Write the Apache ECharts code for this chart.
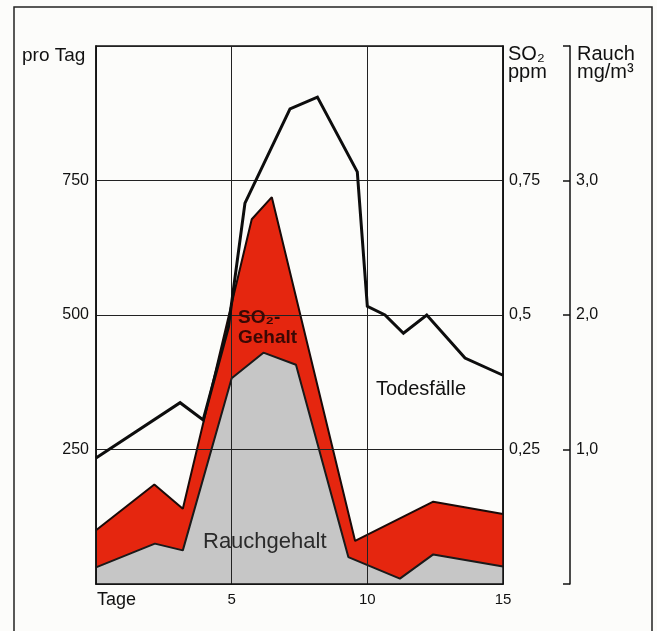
<!DOCTYPE html>
<html><head><meta charset="utf-8">
<script src="https://cdn.jsdelivr.net/npm/echarts@6/dist/echarts.min.js"></script>
<style>html,body{margin:0;padding:0;background:#fcfcfa}#c{width:657px;height:631px}</style>
</head><body><div id="c"></div>
<script>
// Tage (x) and values
const deathDays   = [0, 3.1, 3.95, 4.88, 5.49, 7.15, 8.16, 9.63, 10.0, 10.65, 11.33, 12.19, 13.6, 15];
const deathValues = [234, 337, 305, 478, 708, 883, 905, 766, 516, 500, 466, 500, 420, 388];
const so2Days     = [0, 2.15, 3.2, 5.74, 6.48, 9.55, 12.43, 15];
const so2Values   = [0.10, 0.185, 0.14, 0.678, 0.719, 0.08, 0.153, 0.13];
const smokeDays   = [0, 2.17, 3.2, 5.0, 6.17, 7.37, 9.3, 11.2, 12.43, 15];
const smokeValues = [0.124, 0.30, 0.25, 1.53, 1.72, 1.63, 0.20, 0.04, 0.22, 0.13];

const FONT = '"Liberation Sans", Arial, sans-serif';
const INK = '#111';
const pairs = (xs, ys) => xs.map((x, i) => [x, ys[i]]);

const chart = echarts.init(document.getElementById('c'), null, {renderer: 'canvas'});
chart.setOption({
  backgroundColor: '#fcfcfa',
  animation: false,
  grid: {left: 96, right: 154, top: 46, bottom: 47, show: true, borderColor: INK, borderWidth: 1.5, backgroundColor: 'transparent'},
  xAxis: {
    type: 'value', min: 0, max: 15, interval: 5, z: 3,
    axisLine: {show: true, onZero: false, lineStyle: {color: INK, width: 1.5}},
    axisTick: {show: false},
    splitLine: {show: true, lineStyle: {color: '#222', width: 1}},
    axisLabel: {showMaxLabel: true, margin: 8, fontFamily: FONT, fontSize: 15, color: INK,
      formatter: v => v === 0 ? '' : String(v)}
  },
  yAxis: [
    {
      type: 'value', position: 'left', min: 0, max: 1000, interval: 250, z: 3,
      axisLine: {show: true, lineStyle: {color: INK, width: 1.5}},
      axisTick: {show: false},
      splitLine: {show: true, lineStyle: {color: '#222', width: 1}},
      axisLabel: {margin: 7, fontFamily: FONT, fontSize: 16, color: INK,
        formatter: v => (v === 0 || v === 1000) ? '' : String(v)}
    },
    {
      type: 'value', position: 'right', min: 0, max: 1, interval: 0.25, z: 3,
      axisLine: {show: true, lineStyle: {color: INK, width: 1.5}},
      axisTick: {show: false},
      splitLine: {show: false},
      axisLabel: {margin: 6, fontFamily: FONT, fontSize: 16, color: INK,
        formatter: v => (v === 0 || v === 1) ? '' : String(v).replace('.', ',')}
    },
    {
      type: 'value', position: 'right', offset: 67, min: 0, max: 4, interval: 1, z: 3,
      axisLine: {show: true, lineStyle: {color: INK, width: 1.5}},
      axisTick: {show: true, inside: true, length: 7, lineStyle: {color: INK, width: 1.5}},
      splitLine: {show: false},
      axisLabel: {margin: 6, fontFamily: FONT, fontSize: 16, color: INK,
        formatter: v => (v === 0 || v === 4) ? '' : v.toFixed(1).replace('.', ',')}
    }
  ],
  series: [
    {
      name: 'SO2-Gehalt', type: 'line', yAxisIndex: 1, z: 1,
      data: pairs(so2Days, so2Values), symbol: 'none',
      lineStyle: {color: '#1a0a08', width: 2},
      areaStyle: {color: '#e5260f', opacity: 1, origin: 'start'}
    },
    {
      name: 'Rauchgehalt', type: 'line', yAxisIndex: 2, z: 2,
      data: pairs(smokeDays, smokeValues), symbol: 'none',
      lineStyle: {color: '#1a1a1a', width: 2},
      areaStyle: {color: '#c6c6c6', opacity: 1, origin: 'start'}
    },
    {
      name: 'Todesfälle', type: 'line', yAxisIndex: 0, z: 5,
      data: pairs(deathDays, deathValues), symbol: 'none',
      lineStyle: {color: '#0d0d0d', width: 3, join: 'miter'}
    }
  ],
  graphic: [
    {type: 'rect', silent: true, z: -10, shape: {x: 14, y: 7, width: 638, height: 640},
      style: {fill: 'none', stroke: '#222', lineWidth: 1.5}},
    {type: 'text', silent: true, z: 10, x: 22, y: 56, style: {text: 'pro Tag', font: '19px ' + FONT, fill: INK, verticalAlign: 'middle'}},
    {type: 'text', silent: true, z: 10, x: 97, y: 600, style: {text: 'Tage', font: '18px ' + FONT, fill: INK, verticalAlign: 'middle'}},
    {type: 'text', silent: true, z: 10, x: 508, y: 54, style: {text: 'SO₂', font: '20px ' + FONT, fill: INK, verticalAlign: 'middle'}},
    {type: 'text', silent: true, z: 10, x: 508, y: 72, style: {text: 'ppm', font: '20px ' + FONT, fill: INK, verticalAlign: 'middle'}},
    {type: 'text', silent: true, z: 10, x: 577, y: 54, style: {text: 'Rauch', font: '20px ' + FONT, fill: INK, verticalAlign: 'middle'}},
    {type: 'text', silent: true, z: 10, x: 577, y: 72, style: {text: 'mg/m³', font: '20px ' + FONT, fill: INK, verticalAlign: 'middle'}},
    {type: 'text', silent: true, z: 10, x: 238, y: 318, style: {text: 'SO₂-', font: 'bold 19px ' + FONT, fill: '#3a0804', verticalAlign: 'middle'}},
    {type: 'text', silent: true, z: 10, x: 238, y: 338, style: {text: 'Gehalt', font: 'bold 19px ' + FONT, fill: '#3a0804', verticalAlign: 'middle'}},
    {type: 'text', silent: true, z: 10, x: 203, y: 542, style: {text: 'Rauchgehalt', font: '22px ' + FONT, fill: '#2a2a2a', verticalAlign: 'middle'}},
    {type: 'text', silent: true, z: 10, x: 376, y: 389, style: {text: 'Todesfälle', font: '20px ' + FONT, fill: INK, verticalAlign: 'middle'}}
  ]
});
</script>
</body></html>
